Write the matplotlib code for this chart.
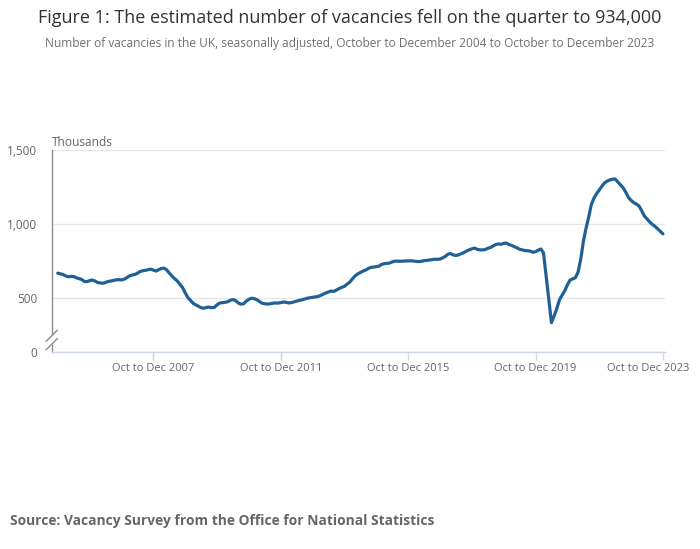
import numpy as np
import matplotlib
matplotlib.use("Agg")
import matplotlib.pyplot as plt
from matplotlib.transforms import ScaledTranslation

plt.rcParams["font.family"] = ["Open Sans", "DejaVu Sans"]

# rolling three-month periods, Oct to Dec 2004 .. Oct to Dec 2023
MONTHS = ["Jan", "Feb", "Mar", "Apr", "May", "Jun", "Jul", "Aug", "Sep", "Oct", "Nov", "Dec"]
periods = []
for k in range(229):
    end = 9 + k + 2  # month index of the last month in the window (0 = Jan 2004)
    start = end - 2
    periods.append(f"{MONTHS[start % 12]} to {MONTHS[end % 12]} {2004 + end // 12}")

# vacancies, thousands
vacancies = [
    669, 664, 660, 650, 645, 647, 646, 638, 632, 627, 613, 612,
    618, 623, 616, 606, 603, 601, 606, 613, 616, 620, 624, 625,
    623, 628, 638, 650, 656, 660, 668, 680, 685, 688, 692, 696,
    690, 683, 692, 700, 703, 692, 670, 650, 632, 617, 595, 572,
    537, 505, 485, 466, 455, 446, 436, 432, 438, 440, 436, 438,
    455, 467, 470, 472, 476, 486, 491, 484, 468, 460, 462, 480,
    492, 500, 497, 490, 478, 466, 462, 461, 462, 466, 468, 467,
    470, 474, 472, 468, 470, 475, 480, 485, 489, 494, 500, 503,
    506, 508, 512, 518, 527, 535, 542, 548, 546, 555, 565, 573,
    580, 595, 608, 630, 650, 664, 673, 683, 690, 700, 708, 710,
    713, 716, 728, 733, 735, 737, 745, 750, 750, 749, 750, 751,
    752, 752, 751, 748, 747, 749, 753, 755, 758, 760, 763, 762,
    764, 772, 782, 797, 801, 792, 788, 793, 800, 808, 818, 826,
    833, 838, 830, 826, 826, 828, 836, 842, 852, 862, 866, 864,
    870, 872, 862, 856, 848, 840, 830, 826, 821, 820, 818, 810,
    814, 824, 832, 806, 650, 490, 335, 380, 430, 488, 520, 550,
    590, 622, 630, 638, 675, 760, 880, 970, 1045, 1130, 1175, 1205,
    1230, 1255, 1278, 1290, 1298, 1303, 1304, 1285, 1265, 1245, 1215, 1180,
    1160, 1145, 1135, 1122, 1090, 1055, 1035, 1015, 998, 985, 968, 952,
    934,
]

tick_labels = ["Oct to Dec 2007", "Oct to Dec 2011", "Oct to Dec 2015",
               "Oct to Dec 2019", "Oct to Dec 2023"]
y_ticks = [0, 500, 1000, 1500]
y_tick_labels = ["0", "500", "1,000", "1,500"]

# broken axis: 0..BREAK squeezed into a short strip
BREAK, LOW = 240.0, 135.0


def fwd(v):
    v = np.asarray(v, dtype=float)
    return np.where(v >= BREAK, v, LOW + v * (BREAK - LOW) / BREAK)


def inv(t):
    t = np.asarray(t, dtype=float)
    return np.where(t >= BREAK, t, (t - LOW) * BREAK / (BREAK - LOW))


x = np.arange(len(vacancies))
tick_pos = [periods.index(lbl) for lbl in tick_labels]

fig = plt.figure(figsize=(7.0, 5.49), dpi=100)
ax = fig.add_axes([0.0739, 0.3583, 0.876, 0.3685])

ax.set_yscale("function", functions=(fwd, inv))
ax.plot(x, vacancies, color="#206095", lw=2.3, solid_capstyle="round", zorder=3)
ax.set_xlim(-2.26, len(vacancies) - 1 + 0.75)
ax.set_ylim(0, 1500)

ax.set_yticks(y_ticks)
ax.set_yticklabels(y_tick_labels)
ax.set_xticks(tick_pos)
ax.set_xticklabels(tick_labels)
ax.yaxis.grid(True, color="#e6e6e6", lw=1)
ax.set_axisbelow(True)

ax.tick_params(axis="y", length=0, pad=10.5, labelsize=8.5, labelcolor="#666666")
ax.tick_params(axis="x", length=5.8, width=1, color="#ccd6eb", pad=2,
               labelsize=8, labelcolor="#666666")

# last label pulled inside the chart, as in the original
last = ax.get_xticklabels()[-1]
last.set_transform(last.get_transform() + ScaledTranslation(-0.145, 0, fig.dpi_scale_trans))

for side in ["top", "right", "left"]:
    ax.spines[side].set_visible(False)
ax.spines["bottom"].set_color("#ccd6eb")
ax.spines["bottom"].set_linewidth(1)

# left axis line with break marks
grey = "#8c8c8c"
tr = ax.transAxes
ax.plot([0, 0], [1, 0.092], color=grey, lw=1, transform=tr, clip_on=False)
ax.plot([0, 0], [0.035, 0], color=grey, lw=1, transform=tr, clip_on=False)
dx, dy = 0.009, 0.027
for cy in [0.082, 0.040]:
    ax.plot([-dx, dx], [cy - dy, cy + dy], color=grey, lw=1,
            transform=tr, clip_on=False)

ax.text(0, 1.005, "Thousands", transform=tr, ha="left", va="bottom",
        fontsize=8.6, color="#666666")

fig.text(0.5, 1 - 18 / 549,
         "Figure 1: The estimated number of vacancies fell on the quarter to 934,000",
         ha="center", va="center", fontsize=13.0, color="#333333")
fig.text(0.5, 1 - 44 / 549,
         "Number of vacancies in the UK, seasonally adjusted, October to December 2004 to October to December 2023",
         ha="center", va="center", fontsize=8.55, color="#707070")
fig.text(10 / 700, 1 - 521 / 549,
         "Source: Vacancy Survey from the Office for National Statistics",
         ha="left", va="center", fontsize=9.9, fontweight="bold", color="#666666")

fig.savefig("out.png", dpi=100)
